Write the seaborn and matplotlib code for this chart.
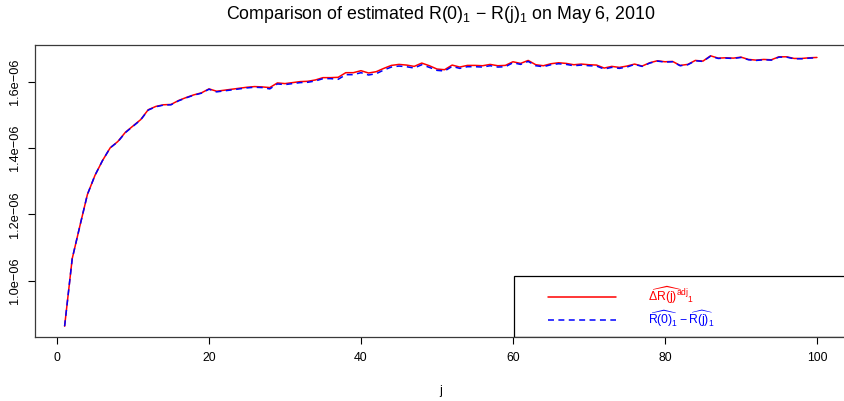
import numpy as np
import pandas as pd
import matplotlib
matplotlib.use("Agg")
import matplotlib.pyplot as plt
from matplotlib.patches import Rectangle
from matplotlib.lines import Line2D
import seaborn as sns

# Lag index
j = list(range(1, 101))

# Adjusted estimate, in units of 1e-06
delta_adj = [
    0.862, 1.066, 1.164, 1.260, 1.318, 1.363, 1.401, 1.420, 1.448, 1.467,
    1.486, 1.516, 1.526, 1.531, 1.532, 1.544, 1.553, 1.561, 1.567, 1.579,
    1.572, 1.575, 1.578, 1.581, 1.584, 1.586, 1.585, 1.583, 1.597, 1.595,
    1.598, 1.601, 1.602, 1.606, 1.613, 1.613, 1.614, 1.628, 1.628, 1.634,
    1.627, 1.631, 1.641, 1.650, 1.653, 1.651, 1.647, 1.657, 1.649, 1.639,
    1.637, 1.651, 1.645, 1.650, 1.650, 1.649, 1.653, 1.649, 1.650, 1.661,
    1.656, 1.665, 1.652, 1.649, 1.655, 1.658, 1.656, 1.652, 1.654, 1.652,
    1.651, 1.642, 1.647, 1.644, 1.648, 1.654, 1.648, 1.658, 1.664, 1.661,
    1.662, 1.650, 1.653, 1.665, 1.663, 1.679, 1.672, 1.673, 1.672, 1.675,
    1.668, 1.666, 1.668, 1.667, 1.676, 1.676, 1.671, 1.671, 1.673, 1.674,
]

# Difference of the two estimates, in units of 1e-06
r0_minus_rj = [
    0.862, 1.066, 1.164, 1.260, 1.318, 1.363, 1.401, 1.419, 1.447, 1.466,
    1.485, 1.515, 1.525, 1.530, 1.531, 1.543, 1.552, 1.560, 1.566, 1.578,
    1.570, 1.573, 1.576, 1.579, 1.582, 1.584, 1.583, 1.579, 1.594, 1.592,
    1.595, 1.598, 1.599, 1.603, 1.610, 1.610, 1.608, 1.622, 1.622, 1.628,
    1.621, 1.625, 1.636, 1.645, 1.648, 1.646, 1.642, 1.652, 1.644, 1.635,
    1.633, 1.647, 1.641, 1.646, 1.646, 1.645, 1.649, 1.645, 1.646, 1.658,
    1.653, 1.662, 1.649, 1.646, 1.652, 1.655, 1.653, 1.649, 1.651, 1.649,
    1.648, 1.639, 1.644, 1.641, 1.645, 1.653, 1.647, 1.657, 1.663, 1.660,
    1.661, 1.649, 1.652, 1.664, 1.662, 1.678, 1.671, 1.672, 1.671, 1.674,
    1.667, 1.665, 1.667, 1.666, 1.675, 1.675, 1.670, 1.670, 1.672, 1.673,
]

UNIT = 1e-6

x_ticks = [0, 20, 40, 60, 80, 100]
y_ticks = [1.0e-6, 1.2e-6, 1.4e-6, 1.6e-6]
y_tick_labels = ["1.0e\u221206", "1.2e\u221206", "1.4e\u221206", "1.6e\u221206"]

title = r"Comparison of estimated R(0)$_1$ $-$ R(j)$_1$ on May 6, 2010"
labels = [r"$\widehat{\Delta R(j)}^{adj}{}_1$",
          r"$\widehat{R(0)}_1 - \widehat{R(j)}_1$"]
colors = ["#FF0000", "#0000FF"]

sns.set_style("white")
plt.rcParams["font.family"] = ["Liberation Sans", "DejaVu Sans"]
plt.rcParams["mathtext.fontset"] = "custom"
plt.rcParams["mathtext.rm"] = "Liberation Sans"
plt.rcParams["mathtext.it"] = "Liberation Sans"
plt.rcParams["mathtext.bf"] = "Liberation Sans:bold"
plt.rcParams["axes.unicode_minus"] = True
for key in ("text.color", "axes.labelcolor", "xtick.color", "ytick.color"):
    plt.rcParams[key] = "black"

df = pd.DataFrame({
    "j": j,
    "adj": np.array(delta_adj) * UNIT,
    "diff": np.array(r0_minus_rj) * UNIT,
})

fig = plt.figure(figsize=(8.44, 4.01), dpi=100)
ax = fig.add_axes([0.0409, 0.1596, 0.9627, 0.7282])

lw = 1.1
sns.lineplot(data=df, x="j", y="adj", ax=ax, color=colors[0], lw=lw,
             legend=False)
sns.lineplot(data=df, x="j", y="diff", ax=ax, color=colors[1], lw=lw,
             dashes=False, legend=False)
ax.lines[-1].set_dashes((3.9, 2.9))

# 4% padding on each side, as in base graphics
xmin, xmax = df["j"].min(), df["j"].max()
xpad = 0.04 * (xmax - xmin)
ax.set_xlim(xmin - xpad, xmax + xpad)
vals = np.concatenate([df["adj"].values, df["diff"].values])
ymin, ymax = vals.min(), vals.max()
ypad = 0.04 * (ymax - ymin)
ax.set_ylim(ymin - ypad, ymax + ypad)

ax.set_xticks(x_ticks)
ax.set_xticklabels([str(t) for t in x_ticks])
ax.set_yticks(y_ticks)
ax.set_yticklabels(y_tick_labels, rotation=90, va="center")

ax.tick_params(axis="both", which="major", direction="out", length=5,
               width=0.8, color="black", labelcolor="black", labelsize=8.8,
               pad=5.5, bottom=True, left=True)
ax.tick_params(axis="y", pad=4.5, labelsize=9.2)
for s in ax.spines.values():
    s.set_visible(True)
    s.set_color("#3a3a3a")
    s.set_linewidth(0.9)

ax.set_xlabel("j", fontsize=8.8)
ax.xaxis.set_label_coords(0.5, -0.165)
ax.set_ylabel("")
ax.set_title(title, fontsize=12.8, pad=19)

# Legend box anchored at the lower-right corner of the plot region
ax.add_patch(Rectangle((0.590, 0.0), 0.5, 0.209, transform=ax.transAxes,
                       fill=False, ec="black", lw=0.9, clip_on=True,
                       zorder=5))
handles = [Line2D([], [], color=colors[0], lw=lw),
           Line2D([], [], color=colors[1], lw=lw, dashes=(3.9, 2.9))]
leg = ax.legend(handles, labels, loc="center left",
                bbox_to_anchor=(0.632, 0.104), borderaxespad=0,
                borderpad=0, frameon=False, fontsize=8.8,
                handlelength=5.6, handletextpad=2.6, labelspacing=0.15)
for t, c in zip(leg.get_texts(), colors):
    t.set_color(c)

fig.savefig("out.png", dpi=100)
